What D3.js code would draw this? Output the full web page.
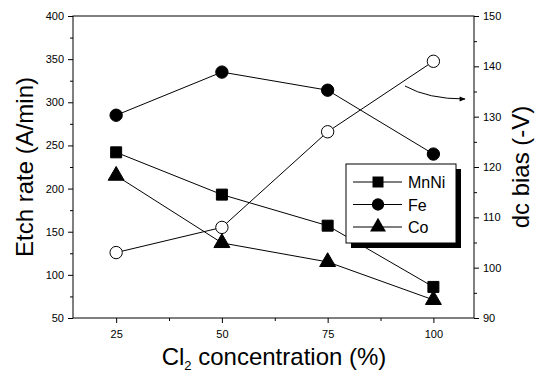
<!DOCTYPE html>
<html>
<head>
<meta charset="utf-8">
<script src="https://cdn.jsdelivr.net/npm/d3@7"></script>
<style>
  body { margin: 0; background: #fff; }
  svg { display: block; font-family: Arial, "Liberation Sans", sans-serif; }
  .domain, .tick line { stroke: #000; }
</style>
</head>
<body>
<div id="root"></div>
<script>
"use strict";

// Cl2 concentration (%)
var conc = [25, 50, 75, 100];
// etch rates (A/min), left axis
var mnni = [242, 193, 157, 86];
var fe = [285, 335, 314, 240];
var co = [215, 137, 115, 71];
// dc bias (-V), right axis
var dcBias = [103, 108, 127, 141];

var xTicks = [25, 50, 75, 100];
var xMinor = [37.5, 62.5, 87.5];
var yLeftTicks = [50, 100, 150, 200, 250, 300, 350, 400];
var yLeftMinor = [75, 125, 175, 225, 275, 325, 375];
var yRightTicks = [90, 100, 110, 120, 130, 140, 150];
var yRightMinor = [95, 105, 115, 125, 135, 145];

var legendItems = ["MnNi", "Fe", "Co"];

var width = 540, height = 374;
var plotLeft = 73, plotRight = 474, plotTop = 16, plotBottom = 318;

var svg = d3.select("#root").append("svg")
    .attr("width", width)
    .attr("height", height);

var x = d3.scaleLinear().domain([14.8, 109.6]).range([plotLeft, plotRight]);
var yL = d3.scaleLinear().domain([50, 400]).range([plotBottom, plotTop]);
var yR = d3.scaleLinear().domain([90, 150]).range([plotBottom, plotTop]);

// frame
svg.append("rect")
    .attr("x", plotLeft).attr("y", plotTop)
    .attr("width", plotRight - plotLeft).attr("height", plotBottom - plotTop)
    .attr("fill", "none").attr("stroke", "#000").attr("stroke-width", 1);

// axes
function styleAxis(g) {
    g.selectAll("text").style("font-size", "11px").attr("fill", "#000");
    g.select(".domain").remove();
}

svg.append("g")
    .attr("transform", "translate(0," + plotBottom + ")")
    .call(d3.axisBottom(x).tickValues(xTicks).tickSize(5).tickPadding(7))
    .call(styleAxis);
svg.append("g")
    .attr("transform", "translate(0," + plotBottom + ")")
    .call(d3.axisBottom(x).tickValues(xMinor).tickSize(3).tickFormat(""))
    .call(styleAxis);

svg.append("g")
    .attr("transform", "translate(" + plotLeft + ",0)")
    .call(d3.axisLeft(yL).tickValues(yLeftTicks).tickSize(5).tickPadding(4))
    .call(styleAxis);
svg.append("g")
    .attr("transform", "translate(" + plotLeft + ",0)")
    .call(d3.axisLeft(yL).tickValues(yLeftMinor).tickSize(3).tickFormat(""))
    .call(styleAxis);

svg.append("g")
    .attr("transform", "translate(" + plotRight + ",0)")
    .call(d3.axisRight(yR).tickValues(yRightTicks).tickSize(5).tickPadding(4))
    .call(styleAxis);
svg.append("g")
    .attr("transform", "translate(" + plotRight + ",0)")
    .call(d3.axisRight(yR).tickValues(yRightMinor).tickSize(3).tickFormat(""))
    .call(styleAxis);

// axis titles
svg.append("text")
    .attr("transform", "translate(33," + ((plotTop + plotBottom) / 2) + ") rotate(-90)")
    .attr("text-anchor", "middle")
    .style("font-size", "24px")
    .text("Etch rate (A/min)");

svg.append("text")
    .attr("transform", "translate(529," + ((plotTop + plotBottom) / 2) + ") rotate(-90)")
    .attr("text-anchor", "middle")
    .style("font-size", "24px")
    .text("dc bias (-V)");

var xt = svg.append("text")
    .attr("x", 274).attr("y", 365)
    .attr("text-anchor", "middle")
    .style("font-size", "24px");
xt.append("tspan").text("Cl");
xt.append("tspan").attr("dy", 5).style("font-size", "13px").text("2");
xt.append("tspan").attr("dy", -5).text(" concentration (%)");

// markers
var sym = {
    square: d3.symbol().type(d3.symbolSquare).size(121),
    circle: d3.symbol().type(d3.symbolCircle).size(120),
    triangle: d3.symbol().type(d3.symbolTriangle).size(110)
};

function drawSeries(vals, yScale, shape, fill) {
    var pts = conc.map(function (c, i) { return [x(c), yScale(vals[i])]; });
    var g = svg.append("g");
    g.append("path")
        .attr("d", d3.line()(pts))
        .attr("fill", "none")
        .attr("stroke", "#000")
        .attr("stroke-width", 1);
    g.selectAll("path.pt")
        .data(pts)
        .enter()
        .append("path")
        .classed("pt", true)
        .attr("transform", function (d) { return "translate(" + d[0] + "," + d[1] + ")"; })
        .attr("d", sym[shape])
        .attr("fill", fill)
        .attr("stroke", "#000")
        .attr("stroke-width", 1);
}

drawSeries(dcBias, yR, "circle", "#fff");
drawSeries(mnni, yL, "square", "#000");
drawSeries(fe, yL, "circle", "#000");
drawSeries(co, yL, "triangle", "#000");

// arrow pointing to right axis
svg.append("defs").append("marker")
    .attr("id", "arrow")
    .attr("viewBox", "0 0 10 10")
    .attr("refX", 9).attr("refY", 5)
    .attr("markerWidth", 8).attr("markerHeight", 6)
    .attr("orient", "auto")
    .append("path")
    .attr("d", "M0,1 L10,5 L0,9 Z")
    .attr("fill", "#000");

svg.append("path")
    .attr("d", "M405,86 Q428,99 465,99")
    .attr("fill", "none")
    .attr("stroke", "#000")
    .attr("stroke-width", 1)
    .attr("marker-end", "url(#arrow)");

// legend
var lg = svg.append("g").attr("transform", "translate(346,164)");
lg.append("rect")
    .attr("x", 5).attr("y", 5).attr("width", 110).attr("height", 79)
    .attr("fill", "#000");
lg.append("rect")
    .attr("x", 0).attr("y", 0).attr("width", 110).attr("height", 79)
    .attr("fill", "#fff").attr("stroke", "#000").attr("stroke-width", 1);

var shapes = ["square", "circle", "triangle"];
legendItems.forEach(function (name, i) {
    var yy = 18 + i * 22.5;
    lg.append("line")
        .attr("x1", 7).attr("x2", 56).attr("y1", yy).attr("y2", yy)
        .attr("stroke", "#000");
    lg.append("path")
        .attr("transform", "translate(32," + yy + ")")
        .attr("d", sym[shapes[i]])
        .attr("fill", "#000");
    lg.append("text")
        .attr("x", 62).attr("y", yy + 6)
        .style("font-size", "16px")
        .text(name);
});
</script>
</body>
</html>
